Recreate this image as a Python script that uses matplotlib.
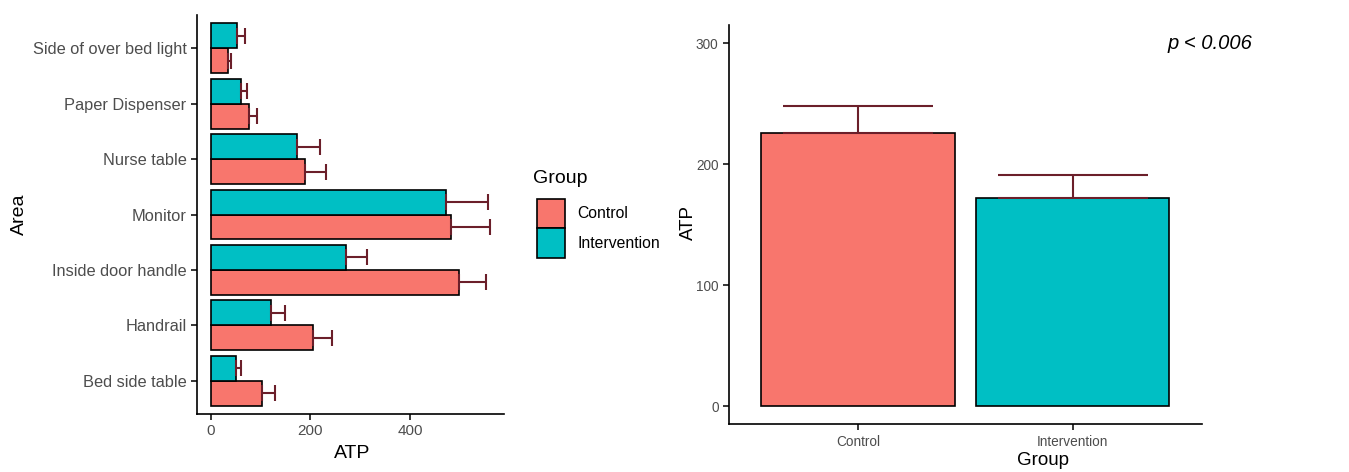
import matplotlib
matplotlib.use("Agg")
import matplotlib.pyplot as plt
import numpy as np
from matplotlib.patches import Patch

plt.rcParams['font.family'] = ['Liberation Sans', 'DejaVu Sans']

# ---- data ----
areas = ["Bed side table", "Handrail", "Inside door handle", "Monitor",
         "Nurse table", "Paper Dispenser", "Side of over bed light"]
control_mean = [103, 205, 499, 483, 189, 77, 35]
control_err = [25, 38, 54, 78, 42, 16, 5]
interv_mean = [51, 120, 271, 472, 173, 60, 53]
interv_err = [9, 29, 42, 85, 47, 13, 15]

groups = ["Control", "Intervention"]
group_mean = [226, 172]
group_err = [22, 19]
p_label = "p < 0.006"

col_c = "#F8766D"
col_i = "#00BFC4"
err_col = "#6B1F2A"
tick_col = "#4D4D4D"

W, H = 1349, 472
fig = plt.figure(figsize=(W / 100, H / 100), dpi=100)

# ---- left panel ----
ax1 = fig.add_axes([0.146, 0.1229, 0.2276, 0.8451])
y = np.arange(1, len(areas) + 1)
h = 0.45
yc = y - h / 2
yi = y + h / 2
ax1.barh(yc, control_mean, height=h, color=col_c, edgecolor="black", linewidth=1.2, zorder=2)
ax1.barh(yi, interv_mean, height=h, color=col_i, edgecolor="black", linewidth=1.2, zorder=2)
ax1.errorbar(np.array(control_mean), yc, xerr=[np.zeros(len(areas)), control_err],
             fmt="none", ecolor=err_col, elinewidth=1.5, capsize=6, capthick=1.5, zorder=3)
ax1.errorbar(np.array(interv_mean), yi, xerr=[np.zeros(len(areas)), interv_err],
             fmt="none", ecolor=err_col, elinewidth=1.5, capsize=6, capthick=1.5, zorder=3)
ax1.set_ylim(0.4, 7.6)
ax1.set_xlim(-28, 589)
ax1.set_yticks(y)
ax1.set_yticklabels(areas)
ax1.set_xticks([0, 200, 400])
ax1.set_xlabel("ATP", fontsize=14)
ax1.set_ylabel("Area", fontsize=14)
ax1.xaxis.set_label_coords((352 - 197) / 307, -(445 - 414) / 399, transform=ax1.transAxes)
ax1.yaxis.set_label_coords(-(197 - 28) / 307, 0.5, transform=ax1.transAxes)
for s in ["top", "right"]:
    ax1.spines[s].set_visible(False)
for s in ["left", "bottom"]:
    ax1.spines[s].set_linewidth(1.2)
ax1.tick_params(axis="y", colors="black", labelcolor=tick_col, labelsize=11.8, length=4, width=1.1)
ax1.tick_params(axis="x", colors="black", labelcolor=tick_col, labelsize=11, length=4, width=1.1)

# ---- legend ----
fig.text(533 / W, 1 - 170 / H, "Group", fontsize=14, ha="left", va="top")
handles = [Patch(facecolor=col_c, edgecolor="black", linewidth=1.2),
           Patch(facecolor=col_i, edgecolor="black", linewidth=1.2)]
leg = fig.legend(handles, groups, loc="upper left",
                 bbox_to_anchor=(537 / W, 1 - 199 / H), frameon=False,
                 handlelength=1.78, handleheight=2.5, handletextpad=0.8,
                 labelspacing=0.0, fontsize=11.3, borderpad=0.0, borderaxespad=0.0)

# ---- right panel ----
ax2 = fig.add_axes([0.5404, 0.101, 0.3504, 0.846])
x = np.arange(1, len(groups) + 1)
ax2.bar(x, group_mean, width=0.9, color=[col_c, col_i], edgecolor="black", linewidth=1.2, zorder=2)
ax2.errorbar(x, group_mean, yerr=[np.zeros(len(groups)), group_err], fmt="none",
             ecolor=err_col, elinewidth=1.5, capsize=54, capthick=1.5, zorder=3)
ax2.text(2.64, 300, p_label, style="italic", fontsize=14.5, ha="center", va="center", clip_on=False)
ax2.set_xlim(0.4, 2.6)
ax2.set_ylim(-15, 315)
ax2.set_xticks(x)
ax2.set_xticklabels(groups)
ax2.set_yticks([0, 100, 200, 300])
ax2.set_xlabel("Group", fontsize=13.5)
ax2.set_ylabel("ATP", fontsize=13.5)
ax2.xaxis.set_label_coords((1043 - 729) / 472.7, -(452 - 424) / 399.3, transform=ax2.transAxes)
ax2.yaxis.set_label_coords(-(729 - 697) / 472.7, (424 - 222) / 399.3, transform=ax2.transAxes)
for s in ["top", "right"]:
    ax2.spines[s].set_visible(False)
for s in ["left", "bottom"]:
    ax2.spines[s].set_linewidth(1.2)
ax2.tick_params(axis="both", colors="black", labelcolor=tick_col, labelsize=9.8, length=4, width=1.1)

fig.savefig("out.png", dpi=100)
